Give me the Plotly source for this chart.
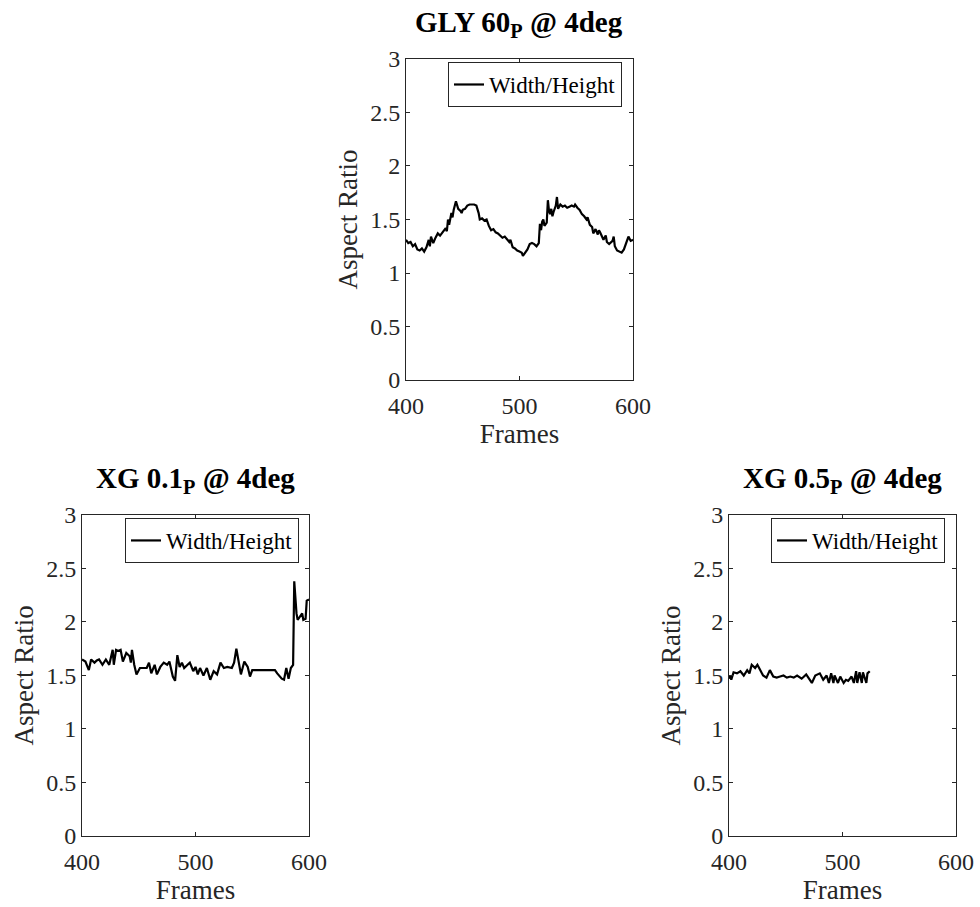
import plotly.graph_objects as go

# GLY 60 (P) @ 4deg
gly_frames = [400, 402, 404, 406, 408, 410, 412, 414, 416, 418, 420, 421, 422, 424, 426, 428, 430, 432,
              434, 435, 436, 437, 438, 440, 441, 442, 444, 446, 448, 449, 450, 452, 454, 456, 458, 460,
              462, 464, 465, 467, 469, 471, 473, 475, 477, 479, 481, 483, 485, 487, 489, 491, 492, 494,
              496, 498, 500, 502, 503, 505, 507, 509, 511, 513, 515, 517, 518, 519, 520, 521, 522, 524,
              525, 526, 527, 528, 529, 530, 532, 533, 534, 536, 538, 540, 542, 544, 546, 548, 549, 551,
              553, 555, 557, 559, 560, 562, 564, 565, 567, 569, 570, 571, 573, 574, 576, 577, 579, 580,
              582, 583, 584, 586, 588, 590, 592, 594, 596, 598, 600]
gly_ratio = [1.31, 1.28, 1.29, 1.25, 1.27, 1.22, 1.21, 1.23, 1.20, 1.24, 1.31, 1.25, 1.34, 1.28, 1.33, 1.37, 1.35, 1.38,
             1.40, 1.42, 1.39, 1.50, 1.45, 1.56, 1.52, 1.59, 1.67, 1.60, 1.58, 1.56, 1.59, 1.60, 1.63, 1.64, 1.64, 1.64,
             1.63, 1.56, 1.50, 1.51, 1.49, 1.50, 1.44, 1.40, 1.41, 1.38, 1.37, 1.35, 1.33, 1.34, 1.31, 1.29, 1.31, 1.24,
             1.23, 1.21, 1.20, 1.19, 1.16, 1.19, 1.22, 1.27, 1.28, 1.27, 1.25, 1.28, 1.46, 1.40, 1.48, 1.50, 1.44, 1.47,
             1.68, 1.58, 1.55, 1.60, 1.53, 1.57, 1.63, 1.71, 1.60, 1.64, 1.62, 1.63, 1.61, 1.62, 1.63, 1.62, 1.64, 1.61,
             1.59, 1.55, 1.53, 1.50, 1.52, 1.45, 1.43, 1.37, 1.41, 1.36, 1.40, 1.38, 1.33, 1.31, 1.35, 1.29, 1.27, 1.28,
             1.30, 1.34, 1.25, 1.21, 1.20, 1.19, 1.22, 1.28, 1.34, 1.30, 1.31]

# XG 0.1 (P) @ 4deg
xg01_frames = [400, 403, 406, 408, 411, 413, 415, 418, 421, 424, 427, 428, 430, 432, 434, 436, 439, 442,
               443, 444, 446, 448, 451, 454, 457, 459, 461, 464, 466, 469, 472, 475, 477, 480, 482, 484,
               486, 488, 490, 493, 495, 498, 500, 502, 504, 507, 510, 513, 516, 519, 522, 525, 528, 532,
               534, 536, 538, 540, 543, 546, 548, 550, 560, 570, 572, 574, 576, 578, 580, 582, 584, 586,
               587, 589, 590, 592, 594, 595, 597, 598, 600]
xg01_ratio = [1.65, 1.63, 1.55, 1.65, 1.62, 1.64, 1.65, 1.60, 1.65, 1.60, 1.74, 1.60, 1.74, 1.73, 1.74, 1.63, 1.71, 1.68,
              1.62, 1.74, 1.60, 1.51, 1.57, 1.57, 1.57, 1.62, 1.52, 1.60, 1.51, 1.58, 1.62, 1.60, 1.63, 1.49, 1.45, 1.69,
              1.58, 1.62, 1.57, 1.60, 1.62, 1.54, 1.58, 1.51, 1.57, 1.50, 1.57, 1.46, 1.54, 1.51, 1.62, 1.57, 1.58, 1.57,
              1.62, 1.75, 1.63, 1.51, 1.63, 1.58, 1.49, 1.55, 1.55, 1.55, 1.52, 1.49, 1.47, 1.46, 1.57, 1.47, 1.57, 1.60,
              2.38, 2.08, 2.02, 2.05, 2.08, 2.02, 2.03, 2.20, 2.21]

# XG 0.5 (P) @ 4deg
xg05_frames = [400, 401, 402, 404, 407, 410, 413, 416, 418, 420, 423, 425, 427, 430, 433, 436, 439, 442,
               445, 448, 451, 454, 457, 460, 464, 468, 473, 476, 480, 483, 486, 488, 490, 492, 493, 496,
               498, 501, 503, 505, 508, 510, 512, 513, 515, 517, 518, 521, 522, 524]
xg05_ratio = [1.47, 1.50, 1.46, 1.53, 1.52, 1.54, 1.50, 1.55, 1.52, 1.60, 1.57, 1.60, 1.56, 1.50, 1.48, 1.55, 1.49, 1.48,
              1.49, 1.50, 1.48, 1.49, 1.48, 1.50, 1.47, 1.51, 1.43, 1.50, 1.52, 1.46, 1.50, 1.43, 1.52, 1.43, 1.50, 1.43,
              1.49, 1.43, 1.46, 1.45, 1.49, 1.43, 1.54, 1.43, 1.53, 1.43, 1.53, 1.43, 1.52, 1.54]

x_ticks = [400, 500, 600]
y_ticks = [0, 0.5, 1, 1.5, 2, 2.5, 3]
y_tick_text = ["0", "0.5", "1", "1.5", "2", "2.5", "3"]
legend_label = "Width/Height"

panels = [
    # (frames, values, title, x domain, y domain, legend anchor)
    (gly_frames, gly_ratio, "<b>GLY 60<sub>P</sub> @ 4deg</b>", [0.4143, 0.6459], [0.5810, 0.9350], (0.6347, 0.9316)),
    (xg01_frames, xg01_ratio, "<b>XG 0.1<sub>P</sub> @ 4deg</b>", [0.0837, 0.3153], [0.0783, 0.4322], (0.3051, 0.4289)),
    (xg05_frames, xg05_ratio, "<b>XG 0.5<sub>P</sub> @ 4deg</b>", [0.7439, 0.9755], [0.0783, 0.4322], (0.9643, 0.4289)),
]

SERIF = "Liberation Serif, Times New Roman, serif"
AXIS_COLOR = "#262626"

fig = go.Figure()
layout = dict(
    width=980, height=907,
    margin=dict(l=0, r=0, t=0, b=0, autoexpand=False),
    paper_bgcolor="white", plot_bgcolor="white",
    font=dict(family=SERIF, size=24, color=AXIS_COLOR),
    showlegend=True,
    annotations=[],
)

for i, (frames, values, title, xdom, ydom, leg) in enumerate(panels, start=1):
    sfx = "" if i == 1 else str(i)
    leg_name = "legend" if i == 1 else f"legend{i}"
    fig.add_trace(go.Scatter(
        x=frames, y=values, mode="lines", name=legend_label,
        line=dict(color="black", width=2.2),
        xaxis=f"x{sfx}", yaxis=f"y{sfx}", legend=leg_name,
    ))
    layout[f"xaxis{sfx}"] = dict(
        domain=xdom, anchor=f"y{sfx}", range=[400, 600], automargin=False,
        tickvals=x_ticks, ticks="inside", ticklen=4, tickcolor=AXIS_COLOR,
        showline=True, linecolor=AXIS_COLOR, linewidth=1, mirror="ticks",
        showgrid=False, zeroline=False, ticklabelstandoff=4,
        tickfont=dict(size=24, family=SERIF, color=AXIS_COLOR),
        title=dict(text="Frames", font=dict(size=27, family=SERIF, color=AXIS_COLOR), standoff=6),
    )
    layout[f"yaxis{sfx}"] = dict(
        domain=ydom, anchor=f"x{sfx}", range=[0, 3], automargin=False,
        tickvals=y_ticks, ticktext=y_tick_text, ticks="inside", ticklen=4, tickcolor=AXIS_COLOR,
        showline=True, linecolor=AXIS_COLOR, linewidth=1, mirror="ticks",
        showgrid=False, zeroline=False,
        tickfont=dict(size=24, family=SERIF, color=AXIS_COLOR),
        title=dict(text="Aspect Ratio", font=dict(size=27, family=SERIF, color=AXIS_COLOR), standoff=4),
    )
    layout[leg_name] = dict(
        x=leg[0], y=leg[1], xanchor="right", yanchor="top",
        xref="paper", yref="paper",
        bgcolor="white", bordercolor=AXIS_COLOR, borderwidth=1,
        font=dict(size=23, family=SERIF, color="black"),
        itemwidth=30, tracegroupgap=0,
    )
    layout["annotations"].append(dict(
        text=title, xref="paper", yref="paper",
        x=(xdom[0] + xdom[1]) / 2, y=ydom[1],
        xanchor="center", yanchor="bottom", yshift=15, showarrow=False,
        font=dict(size=29, family=SERIF, color="black"),
    ))

fig.update_layout(**layout)
fig.write_html("out.html")
